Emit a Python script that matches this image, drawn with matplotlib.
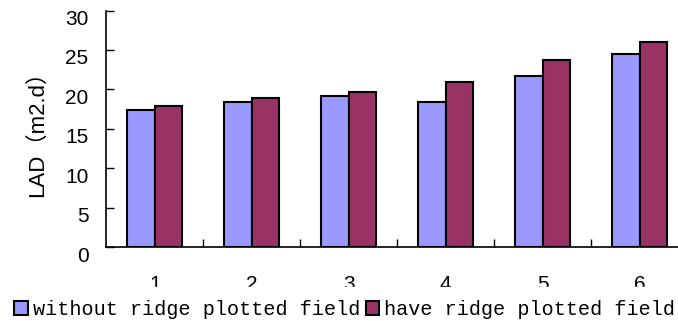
import numpy as np
import matplotlib.pyplot as plt
import matplotlib.transforms as mtransforms

plt.rcParams['font.family'] = ['Liberation Sans', 'Noto Sans CJK SC', 'DejaVu Sans']

# 数据
groups = ['1', '2', '3', '4', '5', '6']
without_ridge = [17.4, 18.4, 19.2, 18.4, 21.7, 24.5]
have_ridge = [17.9, 18.9, 19.7, 20.9, 23.7, 26.0]
labels = ['without ridge plotted field', 'have ridge plotted field']

fig = plt.figure(figsize=(6.78, 3.21), dpi=100)
# 坐标轴右端超出画布（原图被裁切）
ax = fig.add_axes([0.157, 0.2305, 0.858, 0.7365])

x = np.arange(1, len(groups) + 1)
w = 0.284
ax.bar(x - w / 2, without_ridge, w, color='#9999FF', edgecolor='black', linewidth=1.5, label=labels[0])
ax.bar(x + w / 2, have_ridge, w, color='#993366', edgecolor='black', linewidth=1.5, label=labels[1])

ax.set_xlim(0.5, 6.5)
ax.set_ylim(0, 30)
ax.set_yticks(range(0, 31, 5))
ax.set_xticks(x)
ax.set_xticklabels(groups)
ax.set_xticks(x[:-1] + 0.5, minor=True)

for s in ['top', 'right']:
    ax.spines[s].set_visible(False)
ax.spines['left'].set_linewidth(1.2)
ax.spines['bottom'].set_linewidth(1.2)

ax.tick_params(axis='y', direction='in', length=6, width=1, labelsize=15, pad=13)
ax.tick_params(axis='x', which='major', length=0, labelsize=15, pad=20)
ax.tick_params(axis='x', which='minor', direction='in', length=6, width=1)

# y 刻度标签略向下偏移
offset = mtransforms.ScaledTranslation(0, -7 / 100, fig.dpi_scale_trans)
for lab in ax.get_yticklabels():
    lab.set_transform(lab.get_transform() + offset)

ax.set_ylabel('LAD（m2.d）', fontsize=16, labelpad=12)

# 图例白底，遮住 x 刻度数字的下半部分
leg = fig.legend(loc='center left', bbox_to_anchor=(-0.012, 0.036), ncol=2,
                 prop={'family': 'Liberation Mono', 'size': 14.5},
                 handlelength=0.65, handleheight=0.65,
                 handletextpad=0.25, columnspacing=0.3, borderpad=0.62,
                 frameon=True, fancybox=False)
leg.get_frame().set_facecolor('white')
leg.get_frame().set_edgecolor('white')
leg.get_frame().set_alpha(1)

plt.savefig('out.png', dpi=100)
